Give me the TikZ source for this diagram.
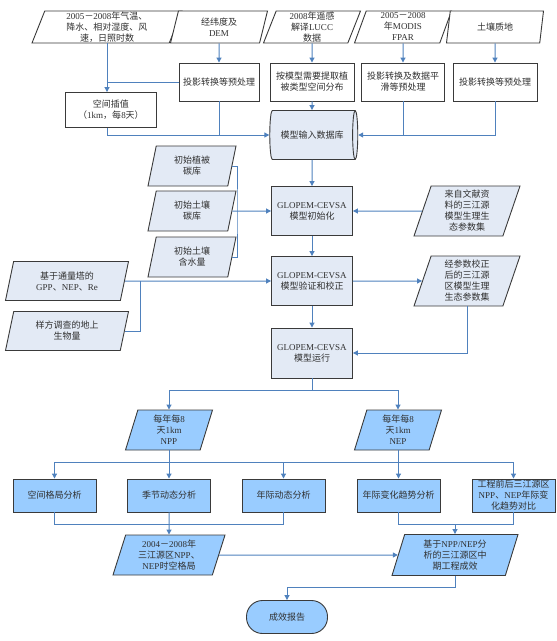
\documentclass[tikz,border=0pt]{standalone}
\usepackage{fontspec}
\setmainfont{Liberation Serif}
\newfontfamily\cjk{Noto Sans CJK SC}
\usetikzlibrary{shapes,arrows.meta,positioning,calc}

% switch to the CJK family for Chinese characters
\XeTeXinterchartokenstate=1
\newXeTeXintercharclass\cjkclass
\newcount\cjkcode
\newcommand\setcjkrange[2]{%
  \cjkcode=#1\relax
  \loop
    \XeTeXcharclass\cjkcode=\cjkclass
  \ifnum\cjkcode<#2\relax
    \advance\cjkcode by 1
  \repeat}
\setcjkrange{"3000}{"303F}
\setcjkrange{"4E00}{"9FFF}
\setcjkrange{"FF00}{"FFEF}
\XeTeXinterchartoks 0 \cjkclass = {\cjk}
\XeTeXinterchartoks 4095 \cjkclass = {\cjk}
\XeTeXinterchartoks \cjkclass 0 = {\rmfamily}
\XeTeXinterchartoks \cjkclass 4095 = {\rmfamily}

\definecolor{edge}{HTML}{3A3A3A}
\definecolor{wirecol}{HTML}{4F81BD}
\definecolor{midfill}{HTML}{E3EAF5}
\definecolor{lowfill}{HTML}{99CCFF}
\definecolor{ink}{HTML}{303030}

\begin{document}
\begin{tikzpicture}[x=1pt, y=-1pt,
    font=\fontsize{9}{11}\selectfont,
    base/.style={draw=edge, line width=0.9pt, text=ink, align=center, inner sep=0.5pt},
    procbox/.style={base, rectangle, fill=white, minimum width=83pt, minimum height=38pt},
    inbox/.style={base, trapezium, trapezium left angle=68, trapezium right angle=112,
        trapezium stretches body, fill=white, minimum width=97pt, minimum height=32pt},
    midbox/.style={base, rectangle, fill=midfill, minimum width=81pt, minimum height=49pt},
    middata/.style={inbox, fill=midfill, minimum width=88pt, minimum height=40pt},
    lowbox/.style={base, rectangle, fill=lowfill, minimum width=83pt, minimum height=33pt},
    lowdata/.style={inbox, fill=lowfill, minimum width=87pt, minimum height=40pt},
    dbase/.style={base, cylinder, aspect=0.55, fill=midfill, minimum width=49pt, minimum height=88pt},
    term/.style={base, rectangle, rounded corners=16pt, fill=lowfill, minimum width=81pt, minimum height=33pt},
    wire/.style={draw=wirecol, line width=1pt},
    ptr/.style={wire, -{Triangle[length=5pt, width=5pt]}}
]
    \useasboundingbox (0,0) rectangle (557,641);

    % input data
    \node[inbox, minimum width=150pt] (clim) at (107,27) {2005－2008年气温、\\降水、相对湿度、风\\速，日照时数};
    \node[inbox] (dem) at (219,27) {经纬度及\\DEM};
    \node[inbox] (lucc) at (312,27) {2008年遥感\\解译LUCC\\数据};
    \node[inbox] (modis) at (403,27) {2005－2008\\年MODIS\\FPAR};
    \node[inbox] (soil) at (495,27) {土壤质地};

    \node[procbox, minimum width=80pt] (pre1) at (219,82) {投影转换等预处理};
    \node[procbox, minimum width=84pt] (pre2) at (312,82) {按模型需要提取植\\被类型空间分布};
    \node[procbox] (pre3) at (403,82) {投影转换及数据平\\滑等预处理};
    \node[procbox, minimum width=84pt] (pre4) at (495,82) {投影转换等预处理};
    \node[procbox, minimum width=91pt, minimum height=35pt] (interp) at (111,110) {空间插值\\（1km，每8天）};

    \node[dbase] (db) at (312,135) {模型输入数据库};

    % model
    \node[midbox] (init) at (312,211) {GLOPEM-CEVSA\\模型初始化};
    \node[midbox] (verify) at (312,281) {GLOPEM-CEVSA\\模型验证和校正};
    \node[midbox, minimum height=50pt] (run) at (312,353) {GLOPEM-CEVSA\\模型运行};

    \node[middata] (c1) at (192,166) {初始植被\\碳库};
    \node[middata] (c2) at (192,211) {初始土壤\\碳库};
    \node[middata] (c3) at (192,257) {初始土壤\\含水量};
    \node[middata, minimum width=106pt, minimum height=50pt] (lit) at (467,211) {来自文献资\\料的三江源\\模型生理生\\态参数集};
    \node[middata, minimum width=106pt, minimum height=50pt] (cal) at (467,281) {经参数校正\\后的三江源\\区模型生理\\生态参数集};
    \node[middata, minimum width=123pt, minimum height=39pt] (flux) at (67,281) {基于通量塔的\\GPP、NEP、Re};
    \node[middata, minimum width=123pt, minimum height=39pt] (plot) at (67,331) {样方调查的地上\\生物量};

    % results
    \node[lowdata] (npp) at (169,430) {每年每8\\天1km\\NPP};
    \node[lowdata] (nep) at (398,430) {每年每8\\天1km\\NEP};

    \node[lowbox] (a1) at (54.5,495.5) {空间格局分析};
    \node[lowbox] (a2) at (169,495.5) {季节动态分析};
    \node[lowbox] (a3) at (283.5,495.5) {年际动态分析};
    \node[lowbox] (a4) at (398.5,495.5) {年际变化趋势分析};
    \node[lowbox] (a5) at (513.5,495.5) {工程前后三江源区\\NPP、NEP年际变\\化趋势对比};

    \node[lowdata, minimum width=112pt] (pat) at (169,555) {2004－2008年\\三江源区NPP、\\NEP时空格局};
    \node[lowdata, minimum width=126pt, minimum height=41pt] (eff) at (455,555) {基于NPP/NEP分\\析的三江源区中\\期工程成效};
    \node[term] (report) at (287,617) {成效报告};

    % top connectors
    \draw[ptr] (clim.south) -- (clim.south |- interp.north);
    \draw[ptr] (dem.south) -- (pre1.north);
    \draw[wire] (pre1.west) -- (pre1.west -| clim.south);
    \draw[ptr] (clim.south |- interp.south) |- (db.west);
    \draw[wire] (pre1.south) -- (pre1.south |- db.west);
    \draw[ptr] (lucc.south) -- (pre2.north);
    \draw[ptr] (pre2.south) -- (db.north);
    \draw[ptr] (modis.south) -- (pre3.north);
    \draw[ptr] (soil.south) -- (pre4.north);
    \draw[ptr] (pre4.south) |- (db.east);
    \draw[wire] (pre3.south) -- (pre3.south |- db.east);

    % model connectors
    \draw[ptr] (db.south) -- (init.north);
    \draw[ptr] (init.south) -- (verify.north);
    \draw[ptr] (verify.south) -- (run.north);
    \coordinate (cbus) at (237,211);
    \draw[wire] (c1.east) -| (cbus) |- (c3.east);
    \draw[ptr] (c2.east) -- (init.west);
    \draw[ptr] (lit.west) -- (init.east);
    \draw[ptr] (verify.east) -- (cal.west);
    \draw[ptr] (cal.south) |- (run.east);
    \draw[ptr] (flux.east) -- (verify.west);
    \coordinate (fbus) at (140,281);
    \draw[wire] (plot.east) -| (fbus);

    % result connectors
    \coordinate (rsplit) at (312,390);
    \draw[ptr] (run.south) |- (rsplit) -| (npp.north);
    \draw[ptr] (rsplit) -| (nep.north);
    \coordinate (abus) at (0,462);
    \draw[wire] (a1.north |- abus) -- (a5.north |- abus);
    \draw[wire] (npp.south) -- (npp.south |- abus);
    \draw[wire] (nep.south) -- (nep.south |- abus);
    \foreach \n in {a1,a2,a3,a4,a5}
        \draw[ptr] (\n.north |- abus) -- (\n.north);
    \coordinate (pbus) at (0,524);
    \draw[wire] (a1.south) |- (a3.south |- pbus) -- (a3.south);
    \draw[ptr] (a2.south) -- (pat.north);
    \draw[wire] (a4.south) |- (a5.south |- pbus) -- (a5.south);
    \draw[ptr] (eff.north |- pbus) -- (eff.north);
    \draw[ptr] (pat.east) -- (eff.west);
    \coordinate (rbus) at (0,587);
    \draw[ptr] (eff.south) |- (report.north |- rbus) -- (report.north);
\end{tikzpicture}
\end{document}
